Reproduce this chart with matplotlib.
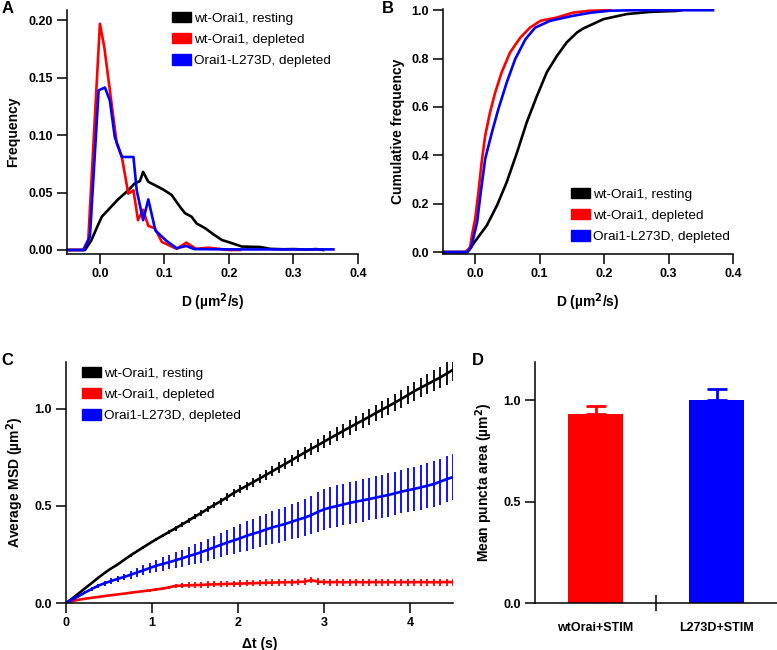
import numpy as np
import matplotlib
matplotlib.use("Agg")
import matplotlib.pyplot as plt
from matplotlib.patches import Patch

plt.rcParams['font.family'] = ['Liberation Sans', 'DejaVu Sans']

# ---------------- Data ----------------
series_names = ["wt-Orai1, resting", "wt-Orai1, depleted", "Orai1-L273D, depleted"]
series_colors = ["#000000", "#ff0000", "#0000ff"]

# Panel A: frequency histograms
a_black_x = [-0.05, -0.023, -0.013, -0.003, 0.003, 0.013, 0.028, 0.044, 0.054, 0.062, 0.067, 0.075,
             0.085, 0.098, 0.111, 0.124, 0.132, 0.142, 0.15, 0.163, 0.176, 0.189, 0.202, 0.22,
             0.248, 0.264, 0.284, 0.30, 0.32, 0.335, 0.346]
a_black_y = [0, 0, 0.0087, 0.0217, 0.029, 0.035, 0.044, 0.052, 0.058, 0.060, 0.068, 0.0594,
             0.0565, 0.0527, 0.048, 0.0377, 0.032, 0.029, 0.023, 0.019, 0.0136, 0.0087, 0.0064, 0.003,
             0.0026, 0.001, 0.0006, 0.0008, 0.0003, 0.0008, 0.0]
a_red_x = [-0.05, -0.026, -0.018, 0.0, 0.0067, 0.026, 0.034, 0.044, 0.052, 0.059, 0.067, 0.075,
           0.085, 0.096, 0.119, 0.134, 0.149, 0.168, 0.2, 0.217]
a_red_y = [0, 0, 0.009, 0.197, 0.177, 0.093, 0.081, 0.049, 0.052, 0.026, 0.035, 0.021,
           0.019, 0.007, 0.001, 0.0064, 0.001, 0.002, 0.0, 0.0]
a_blue_x = [-0.05, -0.025, -0.0155, -0.002, 0.0078, 0.0155, 0.023, 0.034, 0.052, 0.057, 0.067, 0.075,
            0.086, 0.103, 0.119, 0.134, 0.146, 0.2, 0.25, 0.362]
a_blue_y = [0, 0, 0.0116, 0.139, 0.1415, 0.130, 0.0985, 0.081, 0.081, 0.052, 0.026, 0.044,
            0.017, 0.008, 0.0015, 0.0035, 0.0008, 0.0005, 0.0005, 0.0005]

# Panel B: cumulative frequency
b_black_x = [-0.05, -0.015, -0.01, 0.003, 0.018, 0.034, 0.049, 0.065, 0.08, 0.096, 0.111, 0.127,
             0.142, 0.158, 0.168, 0.199, 0.235, 0.271, 0.313, 0.32]
b_black_y = [0, 0, 0.008, 0.056, 0.11, 0.194, 0.29, 0.413, 0.537, 0.647, 0.743, 0.812,
             0.867, 0.908, 0.925, 0.963, 0.984, 0.993, 0.997, 1.0]
b_red_x = [-0.05, -0.015, -0.008, -0.005, 0.0, 0.005, 0.010, 0.0155, 0.023, 0.031, 0.041, 0.054,
           0.07, 0.085, 0.101, 0.127, 0.152, 0.178, 0.21]
b_red_y = [0, 0, 0.02, 0.07, 0.139, 0.248, 0.372, 0.482, 0.578, 0.66, 0.743, 0.825,
           0.887, 0.928, 0.956, 0.97, 0.99, 0.998, 1.0]
b_blue_x = [-0.05, -0.012, -0.006, -0.003, 0.003, 0.008, 0.0155, 0.026, 0.036, 0.049, 0.062, 0.078,
            0.093, 0.116, 0.152, 0.18, 0.21, 0.25, 0.369]
b_blue_y = [0, 0, 0.02, 0.056, 0.125, 0.235, 0.386, 0.496, 0.592, 0.702, 0.798, 0.88,
            0.928, 0.956, 0.977, 0.99, 0.998, 1.0, 1.0]

# Panel C: MSD vs time lag (frame interval 0.075 s)
c_dt = 0.075
c_black = [0.000, 0.024, 0.050, 0.077, 0.103, 0.130, 0.155, 0.178, 0.198, 0.222,
           0.245, 0.266, 0.287, 0.308, 0.328, 0.347, 0.366, 0.385, 0.404, 0.424,
           0.445, 0.464, 0.485, 0.505, 0.524, 0.545, 0.566, 0.585, 0.603, 0.622,
           0.640, 0.659, 0.678, 0.697, 0.716, 0.735, 0.755, 0.774, 0.793, 0.811,
           0.830, 0.849, 0.867, 0.886, 0.904, 0.922, 0.940, 0.958, 0.977, 0.995,
           1.013, 1.031, 1.050, 1.070, 1.090, 1.108, 1.125, 1.143, 1.160, 1.180, 1.200]
c_black_err = [0, 0.001, 0.002, 0.002, 0.003, 0.003, 0.004, 0.004, 0.005, 0.005,
               0.006, 0.006, 0.007, 0.007, 0.008, 0.009, 0.010, 0.012, 0.013, 0.013,
               0.014, 0.015, 0.016, 0.017, 0.018, 0.019, 0.020, 0.021, 0.022, 0.023,
               0.024, 0.025, 0.026, 0.027, 0.028, 0.029, 0.030, 0.031, 0.032, 0.033,
               0.034, 0.035, 0.036, 0.037, 0.038, 0.039, 0.040, 0.041, 0.042, 0.043,
               0.044, 0.045, 0.046, 0.047, 0.049, 0.050, 0.052, 0.054, 0.056, 0.058, 0.060]
c_red = [0.000, 0.010, 0.017, 0.022, 0.027, 0.031, 0.036, 0.040, 0.044, 0.048,
         0.053, 0.057, 0.061, 0.065, 0.070, 0.074, 0.081, 0.088, 0.090, 0.091,
         0.092, 0.093, 0.095, 0.096, 0.097, 0.098, 0.099, 0.100, 0.101, 0.102,
         0.103, 0.104, 0.105, 0.106, 0.107, 0.107, 0.108, 0.110, 0.118, 0.110,
         0.108, 0.107, 0.108, 0.107, 0.107, 0.108, 0.107, 0.107, 0.108, 0.107,
         0.107, 0.107, 0.108, 0.107, 0.107, 0.108, 0.107, 0.107, 0.107, 0.108, 0.107]
c_red_err = [0.0, 0.001, 0.002, 0.002, 0.003, 0.003, 0.004, 0.004, 0.004, 0.005,
             0.005, 0.005, 0.006, 0.006, 0.006, 0.007, 0.008, 0.012, 0.014, 0.015,
             0.015, 0.016, 0.016, 0.016, 0.016, 0.016, 0.016, 0.016, 0.016, 0.016,
             0.016, 0.017, 0.017, 0.017, 0.017, 0.017, 0.017, 0.017, 0.017, 0.017,
             0.017, 0.018, 0.018, 0.018, 0.018, 0.018, 0.018, 0.018, 0.018, 0.018,
             0.018, 0.018, 0.018, 0.018, 0.018, 0.018, 0.018, 0.018, 0.018, 0.018, 0.018]
c_blue = [0.000, 0.018, 0.036, 0.055, 0.072, 0.089, 0.102, 0.113, 0.124, 0.134,
          0.145, 0.157, 0.168, 0.180, 0.192, 0.201, 0.210, 0.220, 0.230, 0.241,
          0.251, 0.262, 0.274, 0.287, 0.299, 0.311, 0.322, 0.333, 0.346, 0.356,
          0.366, 0.378, 0.389, 0.398, 0.407, 0.418, 0.429, 0.439, 0.452, 0.468,
          0.482, 0.491, 0.499, 0.507, 0.515, 0.522, 0.528, 0.535, 0.542, 0.549,
          0.556, 0.564, 0.573, 0.580, 0.587, 0.595, 0.603, 0.612, 0.624, 0.637, 0.648]
c_blue_err = [0.0, 0.002, 0.004, 0.006, 0.008, 0.010, 0.012, 0.014, 0.016, 0.017,
              0.019, 0.022, 0.025, 0.028, 0.031, 0.034, 0.037, 0.040, 0.043, 0.047,
              0.051, 0.054, 0.057, 0.060, 0.063, 0.066, 0.069, 0.072, 0.076, 0.078,
              0.080, 0.082, 0.085, 0.087, 0.089, 0.091, 0.093, 0.095, 0.098, 0.101,
              0.104, 0.105, 0.106, 0.107, 0.108, 0.108, 0.109, 0.110, 0.110, 0.111,
              0.111, 0.112, 0.112, 0.113, 0.114, 0.115, 0.116, 0.117, 0.118, 0.119, 0.120]
c_t = np.arange(len(c_black)) * c_dt

# Panel D: mean puncta area
d_categories = ["wtOrai+STIM", "L273D+STIM"]
d_values = [0.935, 1.0]
d_errors = [0.04, 0.055]
d_colors = ["#ff0000", "#0000ff"]

# ---------------- Figure ----------------
W, H = 777, 650
fig = plt.figure(figsize=(W / 100, H / 100), dpi=100)

def px_axes(l, t, r, b):
    return fig.add_axes([l / W, 1 - b / H, (r - l) / W, (b - t) / H])

TICK_FS = 9
LAB_FS = 10
LEG_FS = 9.7
LW = 1.9

def style(ax):
    for s in ["top", "right"]:
        ax.spines[s].set_visible(False)
    for s in ["left", "bottom"]:
        ax.spines[s].set_linewidth(1.1)
    ax.tick_params(direction="out", length=7, width=1.1, labelsize=TICK_FS, pad=3)
    for lab in ax.get_xticklabels() + ax.get_yticklabels():
        lab.set_fontweight("bold")

def legend(ax, x, y):
    handles = [Patch(facecolor=c, edgecolor=c) for c in series_colors]
    ax.legend(handles, series_names, loc="upper left", bbox_to_anchor=(x / W, 1 - y / H),
              bbox_transform=fig.transFigure, frameon=False, fontsize=LEG_FS,
              handlelength=1.4, handleheight=0.8, handletextpad=0.2, labelspacing=0.62,
              borderpad=0, borderaxespad=0)

# Panel A
axA = px_axes(67, 10, 358, 254)
axA.plot(a_black_x, a_black_y, color=series_colors[0], lw=LW)
axA.plot(a_red_x, a_red_y, color=series_colors[1], lw=LW)
axA.plot(a_blue_x, a_blue_y, color=series_colors[2], lw=LW)
axA.set_xlim(-0.051, 0.4)
axA.set_ylim(-0.0035, 0.209)
axA.set_xticks([0.0, 0.1, 0.2, 0.3, 0.4])
axA.set_xticklabels(["0.0", "0.1", "0.2", "0.3", "0.4"])
axA.set_yticks([0.0, 0.05, 0.10, 0.15, 0.20])
axA.set_yticklabels(["0.00", "0.05", "0.10", "0.15", "0.20"])
style(axA)
axA.set_xlabel("D (µm$^\\mathbf{2}$/s)", fontsize=LAB_FS, fontweight="bold", labelpad=8)
axA.set_ylabel("Frequency", fontsize=LAB_FS, fontweight="bold", labelpad=6)
legend(axA, 172, 12)

# Panel B
axB = px_axes(443, 9, 733, 254)
axB.plot(b_black_x, b_black_y, color=series_colors[0], lw=LW)
axB.plot(b_red_x, b_red_y, color=series_colors[1], lw=LW)
axB.plot(b_blue_x, b_blue_y, color=series_colors[2], lw=LW)
axB.set_xlim(-0.05, 0.4)
axB.set_ylim(-0.008, 1.005)
axB.set_xticks([0.0, 0.1, 0.2, 0.3, 0.4])
axB.set_xticklabels(["0.0", "0.1", "0.2", "0.3", "0.4"])
axB.set_yticks([0.0, 0.2, 0.4, 0.6, 0.8, 1.0])
axB.set_yticklabels(["0.0", "0.2", "0.4", "0.6", "0.8", "1.0"])
style(axB)
axB.set_xlabel("D (µm$^\\mathbf{2}$/s)", fontsize=LAB_FS, fontweight="bold", labelpad=8)
axB.set_ylabel("Cumulative frequency", fontsize=LAB_FS, fontweight="bold", labelpad=5)
legend(axB, 571, 188)

# Panel C
axC = px_axes(66, 362, 453, 603)
axC.errorbar(c_t, c_black, yerr=c_black_err, color=series_colors[0], lw=LW, elinewidth=1.3, capsize=0)
axC.errorbar(c_t, c_red, yerr=c_red_err, color=series_colors[1], lw=LW, elinewidth=1.3, capsize=0)
axC.errorbar(c_t, c_blue, yerr=c_blue_err, color=series_colors[2], lw=LW, elinewidth=1.3, capsize=0)
axC.set_xlim(0, 4.5)
axC.set_ylim(0, 1.24)
axC.set_xticks([0, 1, 2, 3, 4])
axC.set_yticks([0.0, 0.5, 1.0])
axC.set_yticklabels(["0.0", "0.5", "1.0"])
style(axC)
axC.set_xlabel("Δt (s)", fontsize=LAB_FS, fontweight="bold", labelpad=6)
axC.set_ylabel("Average MSD (µm$^\\mathbf{2}$)", fontsize=LAB_FS, fontweight="bold", labelpad=6)
legend(axC, 82, 367)

# Panel D
axD = px_axes(535, 362, 777, 603)
xpos = np.arange(len(d_categories))
axD.bar(xpos, d_values, width=0.46, color=d_colors, edgecolor="none")
for xi, v, e, c in zip(xpos, d_values, d_errors, d_colors):
    axD.errorbar([xi], [v], yerr=[[0], [e]], color=c, elinewidth=2, capsize=7, capthick=2, fmt="none")
axD.set_xlim(-0.5, 1.5)
axD.set_ylim(0, 1.19)
axD.set_xticks(xpos)
axD.set_xticklabels(d_categories)
axD.set_yticks([0.0, 0.5, 1.0])
axD.set_yticklabels(["0.0", "0.5", "1.0"])
style(axD)
axD.tick_params(axis="x", length=0, pad=14)
axD.set_xticks([0.5], minor=True)
axD.tick_params(axis="x", which="minor", direction="inout", length=12, width=1.1)
axD.set_ylabel("Mean puncta area (µm$^\\mathbf{2}$)", fontsize=LAB_FS, fontweight="bold", labelpad=6)

# Panel letters
for lbl, x, y in [("A", 2, 13), ("B", 382, 13), ("C", 1, 365), ("D", 472, 365)]:
    fig.text(x / W, 1 - y / H, lbl, fontsize=12, fontweight="bold", ha="left", va="baseline")

fig.savefig("out.png", dpi=100)
